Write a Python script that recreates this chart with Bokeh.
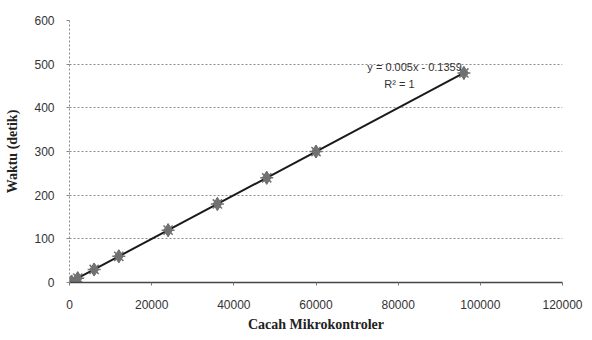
from bokeh.plotting import figure
from bokeh.models import Range1d, FixedTicker, Label, NumeralTickFormatter
from bokeh.embed import file_html
from bokeh.resources import INLINE

# Measured execution time versus number of microcontrollers
cacah = [500, 2000, 6000, 12000, 24000, 36000, 48000, 60000, 96000]
waktu = [2.4, 9.9, 29.8, 59.9, 119.8, 179.9, 239.8, 299.9, 479.9]

# Linear trendline coefficients
slope = 0.005
intercept = -0.1359
r_squared = 1

x_ticks = [0, 20000, 40000, 60000, 80000, 100000, 120000]
y_ticks = [0, 100, 200, 300, 400, 500, 600]

p = figure(width=592, height=340, output_backend="svg", toolbar_location=None,
           x_range=Range1d(0, 120000), y_range=Range1d(0, 600),
           min_border_left=69, min_border_right=30,
           min_border_top=20, min_border_bottom=58)
p.outline_line_color = None
p.background_fill_color = "white"
p.border_fill_color = "white"

# Axes
p.xaxis.ticker = FixedTicker(ticks=x_ticks)
p.yaxis.ticker = FixedTicker(ticks=y_ticks)
p.xaxis.formatter = NumeralTickFormatter(format="0")
p.yaxis.formatter = NumeralTickFormatter(format="0")
p.xaxis.minor_tick_line_color = None
p.yaxis.minor_tick_line_color = None
p.xaxis.major_tick_in = 0
p.xaxis.major_tick_out = 3
p.yaxis.major_tick_in = 0
p.yaxis.major_tick_out = 3
p.xaxis.axis_line_color = "#444444"
p.xaxis.axis_line_width = 1.5
p.xaxis.major_tick_line_color = "#777777"
p.yaxis.axis_line_color = "#888888"
p.yaxis.axis_line_dash = "2 2"
p.yaxis.major_tick_line_color = "#888888"

tick_font = "Liberation Sans"
for ax in (p.xaxis[0], p.yaxis[0]):
    ax.major_label_text_font = tick_font
    ax.major_label_text_font_size = "12px"
    ax.major_label_text_color = "#333333"
    ax.axis_label_text_font = "Liberation Serif"
    ax.axis_label_text_font_style = "bold"
    ax.axis_label_text_font_size = "14px"
    ax.axis_label_text_color = "#222222"
p.xaxis.major_label_standoff = 14
p.yaxis.major_label_standoff = 12
p.xaxis.axis_label = "Cacah Mikrokontroler"
p.yaxis.axis_label = "Waktu (detik)"
p.xaxis.axis_label_standoff = 5
p.yaxis.axis_label_standoff = 11

# Grid
p.xgrid.grid_line_color = None
p.ygrid.grid_line_color = "#8a8a8a"
p.ygrid.grid_line_dash = "2 2"
p.ygrid.grid_line_width = 1

# Trendline across the data range
x_fit = [min(cacah), max(cacah)]
y_fit = [slope * x + intercept for x in x_fit]
p.line(x_fit, y_fit, line_color="#1a1a1a", line_width=2)

# Data points
p.scatter(cacah, waktu, marker="diamond", size=13, fill_color="#7a7a7a",
          line_color="#6a6a6a", line_width=1)
p.scatter(cacah, waktu, marker="asterisk", size=13, line_color="#707070",
          line_width=1.5)

# Trendline equation
eq = Label(x=84000, y=494, text=f"y = {slope}x - {abs(intercept)}",
           text_font=tick_font, text_font_size="11px", text_color="#333333",
           text_align="center", text_baseline="middle")
r2 = Label(x=80300, y=455, text=f"R² = {r_squared}",
           text_font=tick_font, text_font_size="11px", text_color="#333333",
           text_align="center", text_baseline="middle")
p.add_layout(eq)
p.add_layout(r2)

open("out.html", "w").write(file_html(p, INLINE))
